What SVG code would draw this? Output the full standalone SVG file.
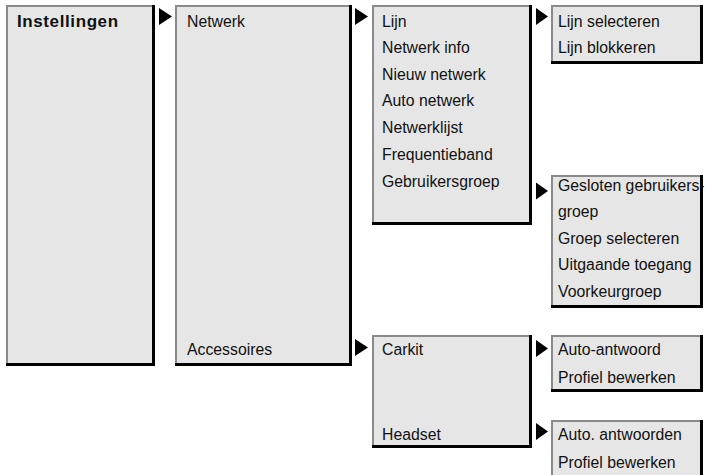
<svg xmlns="http://www.w3.org/2000/svg" width="706" height="475" viewBox="0 0 706 475">
<style>
.bg{fill:#e6e6e6;stroke:none}
.lt{fill:none;stroke:#8a8a8a;stroke-width:2}
.dk{fill:none;stroke:#000;stroke-width:3}
text{font-family:"Liberation Sans",Arial,sans-serif;font-size:15.8px;fill:#111}
.b{font-weight:bold;font-size:17px;letter-spacing:0.6px}
.arr{fill:#000}
</style>
<rect width="706" height="475" fill="#fff"/>
<g id="n-instellingen">
<rect class="bg" x="6" y="6" width="147" height="358"/>
<path class="lt" d="M7,364V6H153"/>
<path class="dk" d="M153.5,5V364.5H6"/>
<text class="b" x="17" y="26.5">Instellingen</text>
</g>
<g id="n-netwerk">
<rect class="bg" x="175" y="6" width="175" height="358"/>
<path class="lt" d="M176,364V6H350"/>
<path class="dk" d="M350.5,5V364.5H175"/>
<text x="187" y="26.5">Netwerk</text>
<text x="187" y="355">Accessoires</text>
</g>
<g id="n-netwerkmenu">
<rect class="bg" x="372" y="6" width="158" height="217"/>
<path class="lt" d="M373,223V6H530"/>
<path class="dk" d="M530.5,5V223.5H372"/>
<text x="382" y="26.5">Lijn</text>
<text x="382" y="53">Netwerk info</text>
<text x="382" y="79.7">Nieuw netwerk</text>
<text x="382" y="106.4">Auto netwerk</text>
<text x="382" y="133">Netwerklijst</text>
<text x="382" y="160">Frequentieband</text>
<text x="382" y="186.8">Gebruikersgroep</text>
</g>
<g id="n-lijn">
<rect class="bg" x="551" y="5" width="150" height="57"/>
<path class="lt" d="M552,62V6H701"/>
<path class="dk" d="M701.5,5V62.5H551"/>
<text x="558" y="26.5">Lijn selecteren</text>
<text x="558" y="52.5">Lijn blokkeren</text>
</g>
<g id="n-gebruikersgroep">
<rect class="bg" x="551" y="175" width="150" height="131"/>
<path class="lt" d="M552,306V176H701"/>
<path class="dk" d="M701.5,175V306.5H551"/>
<text x="558" y="190.5">Gesloten gebruikers-</text>
<text x="558" y="217">groep</text>
<text x="558" y="243.5">Groep selecteren</text>
<text x="558" y="270">Uitgaande toegang</text>
<text x="558" y="296.5">Voorkeurgroep</text>
</g>
<g id="n-accessoires">
<rect class="bg" x="372" y="335" width="158" height="111"/>
<path class="lt" d="M373,446V336H530"/>
<path class="dk" d="M530.5,335V446.5H372"/>
<text x="382" y="355">Carkit</text>
<text x="382" y="440">Headset</text>
</g>
<g id="n-carkit">
<rect class="bg" x="551" y="335" width="150" height="55"/>
<path class="lt" d="M552,390V336H701"/>
<path class="dk" d="M701.5,335V390.5H551"/>
<text x="558" y="355">Auto-antwoord</text>
<text x="558" y="383">Profiel bewerken</text>
</g>
<g id="n-headset">
<rect class="bg" x="551" y="420" width="150" height="60"/>
<path class="lt" d="M552,480V421H701"/>
<path class="dk" d="M701.5,420V480"/>
<text x="558" y="440">Auto. antwoorden</text>
<text x="558" y="468">Profiel bewerken</text>
</g>
<g id="connectors">
<polygon class="arr" points="159,8 172,16.5 159,25"/>
<polygon class="arr" points="355,8 368,16.5 355,25"/>
<polygon class="arr" points="536,8 548,16.5 536,25"/>
<polygon class="arr" points="536,182.5 548,191 536,199.5"/>
<polygon class="arr" points="355,339 368,347.5 355,356"/>
<polygon class="arr" points="536,340 548,348.5 536,357"/>
<polygon class="arr" points="536,423 548,431.5 536,440"/>
</g>
</svg>
